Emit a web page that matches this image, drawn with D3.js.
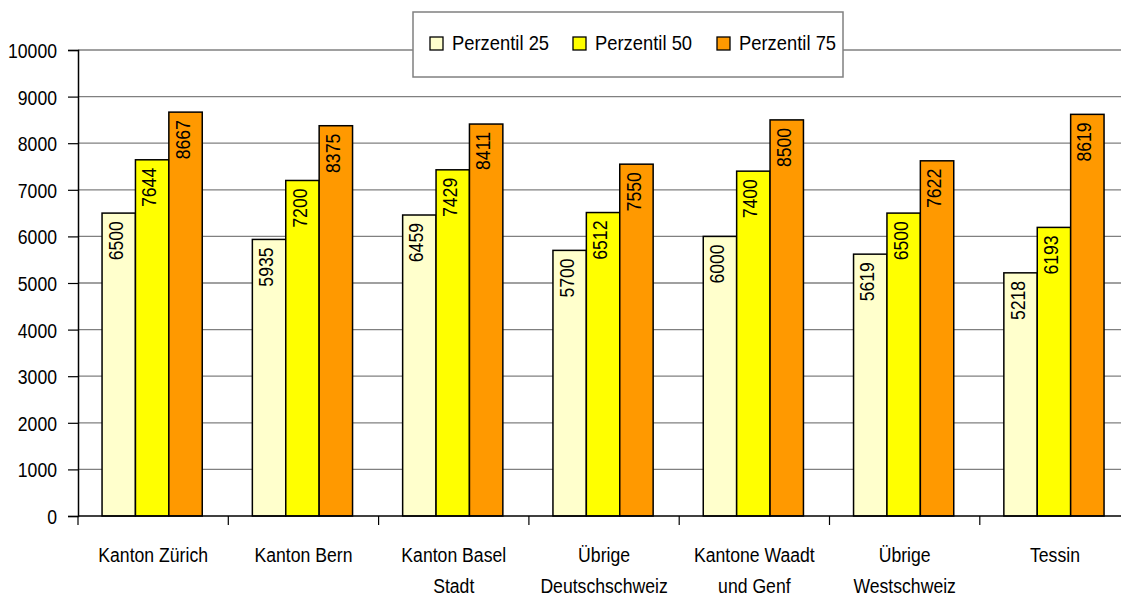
<!DOCTYPE html>
<html><head><meta charset="utf-8">
<script src="https://cdn.jsdelivr.net/npm/d3@7"></script>
<style>body{margin:0;background:#fff}svg{display:block;font-family:"Liberation Sans",Arial,sans-serif}</style>
</head><body><svg id="c" width="1121" height="597"></svg>
<script>
const categories = [["Kanton Zürich"],["Kanton Bern"],["Kanton Basel","Stadt"],["Übrige","Deutschschweiz"],["Kantone Waadt","und Genf"],["Übrige","Westschweiz"],["Tessin"]];
const seriesNames = ["Perzentil 25","Perzentil 50","Perzentil 75"];
const p25 = [6500,5935,6459,5700,6000,5619,5218];
const p50 = [7644,7200,7429,6512,7400,6500,6193];
const p75 = [8667,8375,8411,7550,8500,7622,8619];
const yTicks = [0,1000,2000,3000,4000,5000,6000,7000,8000,9000,10000];
const colors = ["#FFFFCC","#FFFF00","#FF9900"];

(function(){
const series = [p25,p50,p75];
const svg = d3.select("#c");
const left = 78, plotTop = 50, bottom = 516, catW = 150.3;
const FS = 21, SX = 0.84;
const keys = categories.map((c,i)=>i);
const x0 = d3.scaleBand().domain(keys).range([left, left + catW*keys.length]).padding(0);
const bw = x0.bandwidth();
const x1 = d3.scaleBand().domain(d3.range(3)).range([bw/6 - 1, bw*5/6 - 1]).padding(0);
const y = d3.scaleLinear().domain([0,10000]).range([bottom, plotTop]);

// gridlines
svg.append("g").selectAll("line").data(yTicks.filter(d=>d>0)).join("line")
  .attr("x1", left).attr("x2", 1121).attr("y1", d=>y(d)).attr("y2", d=>y(d))
  .attr("stroke","#808080").attr("stroke-width",1.3);

// y axis
const yAxis = svg.append("g").attr("transform",`translate(${left},0)`)
  .call(d3.axisLeft(y).tickValues(yTicks).tickSize(10).tickPadding(11).tickFormat(d3.format("d")));
yAxis.select(".domain").attr("stroke","#000").attr("stroke-width",1.5);
yAxis.selectAll(".tick line").attr("stroke","#000").attr("stroke-width",1.2);
yAxis.selectAll("text").attr("font-size",FS).attr("fill","#000")
  .attr("font-family","Liberation Sans, Arial, sans-serif")
  .attr("x",0).attr("dy","0.36em").attr("transform",`translate(-21,0) scale(${SX},1)`);

// bars
const groups = svg.append("g").selectAll("g").data(keys).join("g")
  .attr("transform", d=>`translate(${x0(d)},0)`);
groups.selectAll("rect").data(i=>series.map((s,k)=>({k, v:s[i]}))).join("rect")
  .attr("x", d=>x1(d.k)).attr("width", x1.bandwidth())
  .attr("y", d=>y(d.v)).attr("height", d=>bottom - y(d.v))
  .attr("fill", d=>colors[d.k]).attr("stroke","#000").attr("stroke-width",1.5);
groups.selectAll("text.v").data(i=>series.map((s,k)=>({k, v:s[i]}))).join("text")
  .attr("class","v")
  .attr("transform", d=>`translate(${x1(d.k)+x1.bandwidth()/2 - 3.5},${y(d.v)+8}) rotate(-90) scale(${SX},1)`)
  .attr("text-anchor","end").attr("dy","0.36em")
  .attr("font-size",FS).attr("fill","#000").text(d=>d.v);

// x axis
svg.append("line").attr("x1",left).attr("x2",1121).attr("y1",bottom).attr("y2",bottom)
  .attr("stroke","#000").attr("stroke-width",1.5);
svg.append("g").selectAll("line").data(d3.range(keys.length+1)).join("line")
  .attr("x1", i=>left + i*bw).attr("x2", i=>left + i*bw)
  .attr("y1", bottom).attr("y2", bottom+9).attr("stroke","#000").attr("stroke-width",1.2);
const xg = svg.append("g");
keys.forEach(i=>{
  categories[i].forEach((line,j)=>{
    xg.append("text").attr("text-anchor","middle").attr("font-size",FS).attr("fill","#000")
      .attr("transform",`translate(${x0(i)+bw/2},${562 + j*31}) scale(${SX},1)`).text(line);
  });
});

// legend
const lg = svg.append("g");
lg.append("rect").attr("x",413).attr("y",12).attr("width",430).attr("height",65)
  .attr("fill","#fff").attr("stroke","#808080").attr("stroke-width",1.5);
const lx = [430,573,717];
seriesNames.forEach((n,k)=>{
  lg.append("rect").attr("x",lx[k]).attr("y",37).attr("width",13).attr("height",13)
    .attr("fill",colors[k]).attr("stroke","#000").attr("stroke-width",1.3);
  lg.append("text").attr("font-size",20).attr("fill","#000")
    .attr("transform",`translate(${lx[k]+22},50) scale(0.92,1)`).text(n);
});
})();
</script></body></html>
